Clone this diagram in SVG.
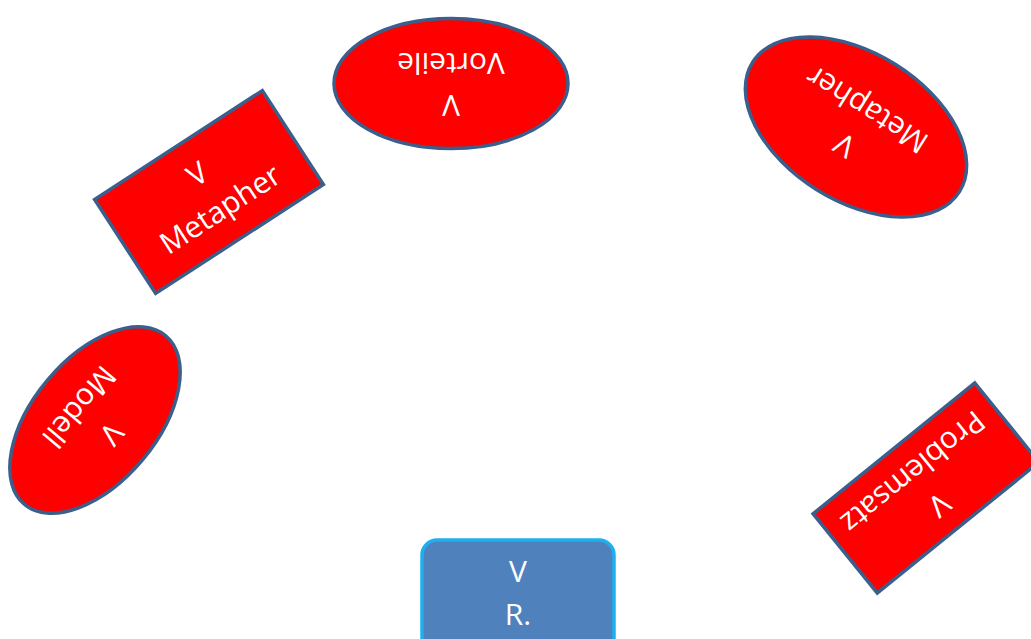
<svg xmlns="http://www.w3.org/2000/svg" width="1031" height="639" viewBox="0 0 1031 639">
<style>
.red{fill:#FF0000;stroke:#3B5F8C;stroke-width:3.5}
.blue{fill:#4F81BD;stroke:#1CB0EE;stroke-width:3.5}
.t{font-family:"Open Sans","Liberation Sans",sans-serif;font-size:30px;fill:#FFFFFF;text-anchor:middle}
</style>
<rect width="1031" height="639" fill="#FFFFFF"/>
<g id="connectors"></g>
<g id="vorteile" transform="translate(451,83.5) rotate(180)">
<ellipse class="red" cx="0" cy="0" rx="117" ry="65"/>
<text class="t" x="0" y="-11">V</text>
<text class="t" x="0" y="31">Vorteile</text>
</g>
<g id="metapher-ellipse" transform="translate(856,127) rotate(212)">
<ellipse class="red" cx="0" cy="0" rx="122" ry="74"/>
<text class="t" x="0" y="-11">V</text>
<text class="t" x="0" y="31">Metapher</text>
</g>
<g id="metapher-rect" transform="translate(209,192) rotate(-33)">
<rect class="red" x="-100" y="-56" width="200" height="112"/>
<text class="t" x="0" y="-11">V</text>
<text class="t" x="0" y="31">Metapher</text>
</g>
<g id="modell" transform="translate(95,420) rotate(130)">
<ellipse class="red" cx="0" cy="0" rx="110" ry="62"/>
<text class="t" x="0" y="-11">V</text>
<text class="t" x="0" y="31">Modell</text>
</g>
<g id="problemsatz" transform="translate(926,488) rotate(141)">
<rect class="red" x="-104" y="-51" width="208" height="102"/>
<text class="t" x="0" y="-11">V</text>
<text class="t" x="0" y="31">Problemsatz</text>
</g>
<g id="r">
<rect class="blue" x="422" y="540" width="192" height="120" rx="15" ry="15"/>
<text class="t" x="518" y="582">V</text>
<text class="t" x="518" y="625">R.</text>
</g>
</svg>
